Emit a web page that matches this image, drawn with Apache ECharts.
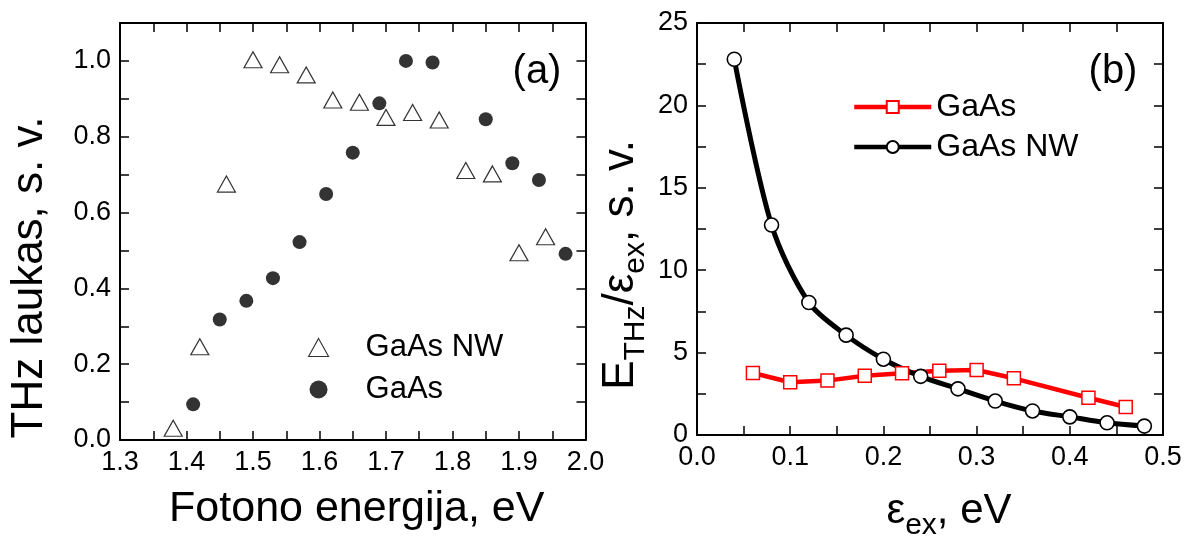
<!DOCTYPE html>
<html><head><meta charset="utf-8">
<script src="https://cdn.jsdelivr.net/npm/echarts@6/dist/echarts.min.js"></script>
<style>html,body{margin:0;padding:0;background:#fff}#c{width:1193px;height:546px}</style>
</head><body><div id="c"></div>
<script>
// Panel (a): THz field vs photon energy
const nwEnergy = [1.38,1.42,1.46,1.50,1.54,1.58,1.62,1.66,1.70,1.74,1.78,1.82,1.86,1.90,1.94];
const nwField  = [0.031,0.246,0.675,1.003,0.990,0.963,0.897,0.891,0.851,0.864,0.844,0.711,0.702,0.494,0.536];
const gaasEnergy = [1.41,1.45,1.49,1.53,1.57,1.61,1.65,1.69,1.73,1.77,1.85,1.89,1.93,1.97];
const gaasField  = [0.094,0.318,0.367,0.427,0.522,0.649,0.758,0.888,1.000,0.996,0.846,0.730,0.686,0.491];
// Panel (b): E_THz / eps_ex vs excess energy
const exGaAs    = [0.06,0.10,0.14,0.18,0.22,0.26,0.30,0.34,0.42,0.46];
const ratioGaAs = [3.76,3.20,3.30,3.60,3.74,3.90,3.94,3.44,2.26,1.70];
const exNW      = [0.04,0.08,0.12,0.16,0.20,0.24,0.28,0.32,0.36,0.40,0.44,0.48];
const ratioNW   = [22.8,12.74,8.04,6.06,4.60,3.56,2.80,2.06,1.46,1.10,0.74,0.54];

const FONT = '"Liberation Sans", Arial, sans-serif';
const zip = (a, b) => a.map((v, i) => [v, b[i]]);
const strip = n => n.replace(/ \([ab]\)$/, '');

const line = { show: true, onZero: false, lineStyle: { color: '#000', width: 2 } };
const tick = { show: true, inside: true, length: 9, lineStyle: { color: '#000', width: 1.5 } };
const lbl = (fmt) => ({ show: true, formatter: fmt, fontSize: 27, color: '#000', fontFamily: FONT, margin: 9 });
const noLbl = { show: false };

function axis(extra) {
  return Object.assign({ type: 'value', axisLine: line, axisTick: tick, splitLine: { show: false }, nameMoveOverlap: false }, extra);
}
const fmtX = v => (Math.round(v * 100) % 10 === 0 ? v.toFixed(1) : '');
const fmtYa = v => (Math.round(v * 10) % 2 === 0 && v < 1.05 ? v.toFixed(1) : '');
const fmtYb = v => (Math.round(v * 10) % 50 === 0 ? String(Math.round(v)) : '');

const chart = echarts.init(document.getElementById('c'));
chart.setOption({
  animation: false,
  backgroundColor: '#fff',
  grid: [
    { left: 120, right: 607.5, top: 23, bottom: 106 },
    { left: 697, right: 30, top: 23, bottom: 106 }
  ],
  xAxis: [
    axis({ gridIndex: 0, position: 'bottom', min: 1.3, max: 2.0, interval: 0.05, axisLabel: lbl(fmtX),
      name: 'Fotono energija, eV', nameLocation: 'middle', nameGap: 48,
      nameTextStyle: { fontSize: 43, color: '#000', fontFamily: FONT, padding: [0, 0, 0, 8] } }),
    axis({ gridIndex: 0, position: 'top', min: 1.3, max: 2.0, interval: 0.05, axisLabel: noLbl }),
    axis({ gridIndex: 1, position: 'bottom', min: 0, max: 0.5, interval: 0.05, axisLabel: lbl(fmtX),
      name: 'ε{s|ex}, eV', nameLocation: 'middle', nameGap: 46,
      nameTextStyle: { fontSize: 42, color: '#000', fontFamily: FONT, padding: [0, 0, 0, 38],
        rich: { s: { fontSize: 30, color: '#000', fontFamily: FONT, padding: [30, 0, 0, 0] } } } }),
    axis({ gridIndex: 1, position: 'top', min: 0, max: 0.5, interval: 0.05, axisLabel: noLbl })
  ],
  yAxis: [
    axis({ gridIndex: 0, position: 'left', min: 0, max: 1.1, interval: 0.1, axisLabel: lbl(fmtYa),
      name: 'THz laukas, s. v.', nameLocation: 'middle', nameGap: 68, nameRotate: 90,
      nameTextStyle: { fontSize: 44, color: '#000', fontFamily: FONT, padding: [0, 92, 0, 0] } }),
    axis({ gridIndex: 0, position: 'right', min: 0, max: 1.1, interval: 0.1, axisLabel: noLbl }),
    axis({ gridIndex: 1, position: 'left', min: 0, max: 25, interval: 2.5, axisLabel: lbl(fmtYb),
      name: 'E{s|THz}/ε{s|ex}, s. v.', nameLocation: 'middle', nameGap: 46, nameRotate: 90,
      nameTextStyle: { fontSize: 44, color: '#000', fontFamily: FONT, padding: [0, 72, 0, 0],
        rich: { s: { fontSize: 30, color: '#000', fontFamily: FONT, padding: [30, 0, 0, 0] } } } }),
    axis({ gridIndex: 1, position: 'right', min: 0, max: 25, interval: 2.5, axisLabel: noLbl })
  ],
  legend: [
    { orient: 'vertical', left: 308, top: 332, padding: 0, itemWidth: 20, itemHeight: 18, itemGap: 11,
      selectedMode: false, data: ['GaAs NW (a)', 'GaAs (a)'], formatter: strip,
      itemStyle: { borderWidth: 1.1 },
      textStyle: { fontSize: 31, lineHeight: 30, color: '#000', fontFamily: FONT, padding: [0, 0, 0, 32] } },
    { orient: 'vertical', left: 852, top: 91, padding: 0, itemWidth: 77, itemHeight: 15, itemGap: 8,
      selectedMode: false, data: ['GaAs (b)', 'GaAs NW (b)'], formatter: strip,
      lineStyle: { width: 4.5 },
      textStyle: { fontSize: 32, lineHeight: 32, color: '#000', fontFamily: FONT } }
  ],
  graphic: [
    { type: 'text', x: 537, y: 72, style: { text: '(a)', font: '40px ' + FONT, fill: '#000', align: 'center', verticalAlign: 'middle' } },
    { type: 'text', x: 1113, y: 72, style: { text: '(b)', font: '40px ' + FONT, fill: '#000', align: 'center', verticalAlign: 'middle' } }
  ],
  series: [
    { type: 'scatter', name: 'GaAs NW (a)', xAxisIndex: 0, yAxisIndex: 0, data: zip(nwEnergy, nwField),
      symbol: 'triangle', symbolSize: [18, 16],
      itemStyle: { color: 'rgba(255,255,255,0)', borderColor: '#000', borderWidth: 1.2 }, emphasis: { disabled: true } },
    { type: 'scatter', name: 'GaAs (a)', xAxisIndex: 0, yAxisIndex: 0, data: zip(gaasEnergy, gaasField),
      symbol: 'circle', symbolSize: 14, itemStyle: { color: '#000' }, emphasis: { disabled: true } },
    { type: 'line', name: 'GaAs (b)', xAxisIndex: 2, yAxisIndex: 2, data: zip(exGaAs, ratioGaAs),
      symbol: 'rect', symbolSize: 13, showSymbol: true,
      lineStyle: { color: '#ff0000', width: 4.5 },
      itemStyle: { color: '#fff', borderColor: '#ff0000', borderWidth: 1.5 }, emphasis: { disabled: true } },
    { type: 'line', name: 'GaAs NW (b)', xAxisIndex: 2, yAxisIndex: 2, data: zip(exNW, ratioNW),
      symbol: 'circle', symbolSize: 14, showSymbol: true, smooth: 0.3,
      lineStyle: { color: '#000', width: 5 },
      itemStyle: { color: '#fff', borderColor: '#000', borderWidth: 1.6 }, emphasis: { disabled: true } }
  ]
});
</script></body></html>
